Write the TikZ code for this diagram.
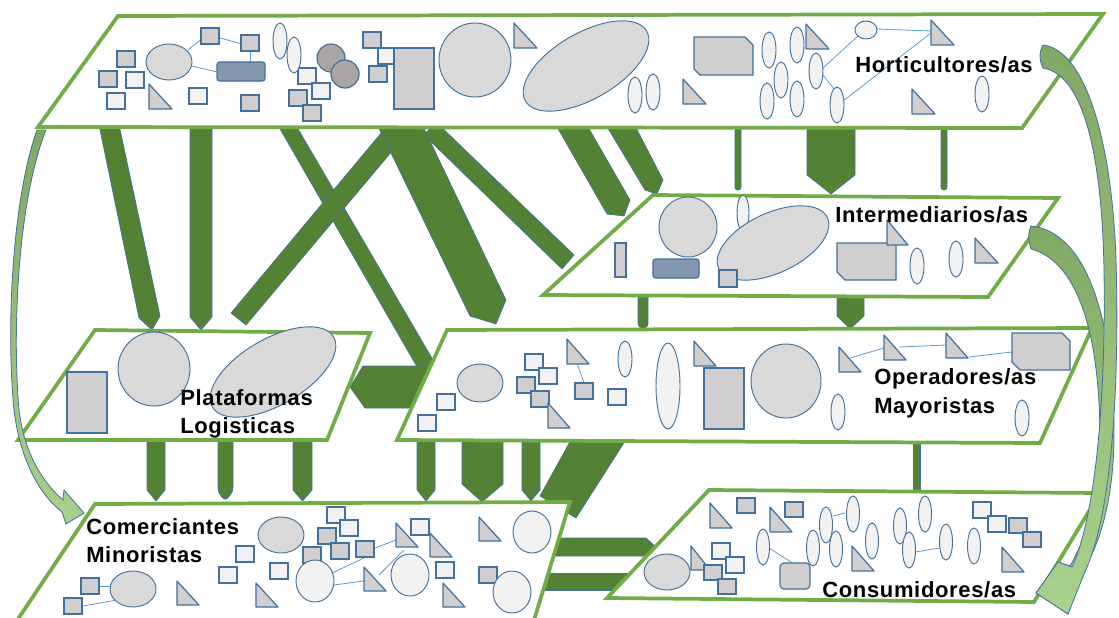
\documentclass[tikz,border=0pt]{standalone}
\usepackage{fontspec}
\usepackage{tikz}
\usetikzlibrary{calc}

\newfontfamily\lblfont[LetterSpace=3]{Liberation Sans}

\definecolor{planegreen}{RGB}{112,173,71}
\definecolor{bandgreen}{RGB}{84,130,53}
\definecolor{edgeblue}{RGB}{65,113,156}
\definecolor{linkblue}{RGB}{91,155,213}
\definecolor{fillgray}{RGB}{208,206,206}
\definecolor{filllight}{RGB}{242,242,242}
\definecolor{fillell}{RGB}{217,217,217}
\definecolor{circgray}{RGB}{170,166,166}
\definecolor{rectblue}{RGB}{132,151,176}
\definecolor{curvetop}{RGB}{129,168,100}
\definecolor{curvebot}{RGB}{169,209,142}

\begin{document}
\begin{tikzpicture}[
    x=0.75pt, y=-0.75pt,
    plane/.style={draw=planegreen, line width=2.8pt, fill=white, line join=miter},
    band/.style={fill=bandgreen, draw=edgeblue, line width=0.5pt, line join=round},
    sqg/.style={draw=edgeblue, fill=fillgray, line width=0.9pt},
    sql/.style={draw=edgeblue, fill=filllight, line width=0.9pt},
    ell/.style={draw=edgeblue, fill=fillell, line width=0.7pt},
    ellw/.style={draw=edgeblue, fill=filllight, line width=0.7pt},
    tri/.style={draw=edgeblue, fill=fillgray, line width=0.9pt, line join=round},
    lnk/.style={draw=linkblue, line width=0.6pt},
    lbl/.style={font={\lblfont\bfseries\fontsize{16.5}{20}\selectfont}, anchor=base west, inner sep=0pt},
    crv/.style={draw=edgeblue, line width=0.6pt, top color=curvetop, bottom color=curvebot},
]
\useasboundingbox (0,0) rectangle (1119,617);

% flows between the levels
\draw[band] (98,120) -- (118,120) -- (160,316) -- (152,330) -- (139,318) -- cycle;
\draw[band] (190,120) -- (212,120) -- (212,317) -- (201,330) -- (190,317) -- cycle;
\draw[band] (276,122) -- (294,122) -- (440,372) -- (420,372) -- cycle;
\draw[band] (350,387) -- (363,366) -- (450,366) -- (450,408) -- (365,408) -- cycle;
\draw[band] (382,132) -- (398,144) -- (246,325) -- (231,313) -- cycle;
\draw[band] (424,135) -- (436,122) -- (574,255) -- (562,269) -- cycle;
\draw[band] (375,120) -- (420,120) -- (506,300) -- (496,324) -- (470,316) -- cycle;
\draw[band] (553,120) -- (584,120) -- (630,200) -- (624,216) -- (607,214) -- cycle;
\draw[band] (603,120) -- (632,120) -- (663,180) -- (657,194) -- (645,190) -- cycle;
\draw[band, rounded corners=2] (735,120) -- (741,120) -- (741,190) -- (735,190) -- cycle;
\draw[band, rounded corners=2] (941,120) -- (947,120) -- (947,190) -- (941,190) -- cycle;
\draw[band] (807,120) -- (855,120) -- (855,175) -- (831,194) -- (807,175) -- cycle;
\draw[band, rounded corners=3] (638,290) -- (648,290) -- (648,328) -- (638,328) -- cycle;
\draw[band] (837,290) -- (864,290) -- (864,316) -- (850,329) -- (837,316) -- cycle;
\foreach \a/\b in {147/165, 293/312, 417/435, 522/540}
    \draw[band] (\a,435) -- (\b,435) -- (\b,490) -- ({(\a+\b)/2},501) -- (\a,490) -- cycle;
\draw[band, rounded corners=3] (218,435) -- (233,435) -- (233,492) -- (225,501) -- (218,492) -- cycle;
\draw[band] (462,435) -- (503,435) -- (503,484) -- (482,502) -- (462,484) -- cycle;
\draw[band] (572,438) -- (627,438) -- (576,518) -- (540,496) -- cycle;
\draw[band] (545,538) -- (646,538) -- (656,547) -- (646,556) -- (545,556) -- cycle;
\draw[band] (545,573) -- (665,573) -- (665,590) -- (545,590) -- cycle;
\draw[band] (913,437) -- (920,437) -- (920,496) -- (913,496) -- cycle;

% levels
\draw[plane] (95,504) -- (570,502) -- (528,640) -- (4,640) -- cycle;
\draw[plane] (709,490) -- (1100,493) -- (1034,602) -- (607,598) -- cycle;
\draw[plane] (95,330) -- (370,333) -- (327,440) -- (18,440) -- cycle;
\draw[plane] (447,330) -- (1092,328) -- (1040,443) -- (397,440) -- cycle;
\draw[plane] (653,195) -- (1058,198) -- (988,297) -- (543,295) -- cycle;
\draw[plane] (118,16) -- (1103,14) -- (1022,128) -- (38,127) -- cycle;

% Horticultores
\draw[lnk] (188,50) -- (203,38);
\draw[lnk] (220,38) -- (242,44);
\draw[lnk] (192,66) -- (217,72);
\draw[lnk] (250,51) -- (250,62);
\draw[lnk] (877,29) -- (931,31);
\draw[lnk] (823,68) -- (858,36);
\draw[lnk] (843,101) -- (931,33);
\draw[lnk] (823,75) -- (834,89);
\draw[ell] (169,62) ellipse [x radius=23, y radius=18];
\foreach \x/\y in {117/51, 99/71, 201/28, 241/35, 241/95, 363/32, 369/66}
    \draw[sqg] (\x,\y) rectangle ++(18,16);
\foreach \x/\y in {126/72, 107/93, 189/88, 378/48}
    \draw[sql] (\x,\y) rectangle ++(18,16);
\draw[sql] (298,68) rectangle ++(18,16);
\draw[sql] (312,83) rectangle ++(18,16);
\draw[sqg] (289,90) rectangle ++(18,16);
\draw[sqg] (303,105) rectangle ++(18,16);
\draw[draw=edgeblue, fill=rectblue, line width=0.9pt, rounded corners=2] (217,62) rectangle (265,81);
\draw[draw=edgeblue, fill=circgray, line width=0.9pt] (331,58) circle [radius=14];
\draw[draw=edgeblue, fill=circgray, line width=0.9pt] (345,74) circle [radius=14];
\draw[sqg] (394,48) rectangle (434,109);
\draw[ell] (475,60) ellipse [x radius=36, y radius=37];
\draw[ell, rotate around={30:(586,66)}] (586,66) ellipse [x radius=70, y radius=33];
\draw[sqg] (694,37) -- (745,37) -- (753,45) -- (753,75) -- (700,75) -- (694,69) -- cycle;
\draw[ellw] (866,30) ellipse [x radius=11, y radius=9];
\foreach \x/\y in {280/41, 294/55, 635/95, 653/92, 769/50, 797/45, 781/80, 816/71, 767/101, 797/99, 837/105, 982/94}
    \draw[ellw] (\x,\y) ellipse [x radius=7, y radius=18];
\foreach \x/\y in {149/84, 514/23, 683/79, 806/24, 931/20, 912/89}
    \draw[tri] (\x,\y) -- ++(0,25) -- ++(23,0) -- cycle;

% Intermediarios
\draw[sqg] (615,243) rectangle (626,277);
\draw[ell] (688,227) ellipse [x radius=29, y radius=30];
\draw[draw=edgeblue, fill=rectblue, line width=0.9pt, rounded corners=2] (653,259) rectangle (699,278);
\draw[ellw] (743,213) ellipse [x radius=6, y radius=18];
\draw[ell, rotate around={25:(773,243)}] (773,243) ellipse [x radius=60, y radius=30];
\draw[sqg] (719,270) rectangle ++(18,17);
\draw[sqg] (837,243) -- (896,243) -- (896,280) -- (845,280) -- (837,272) -- cycle;
\draw[tri] (887,220) -- ++(0,25) -- ++(21,0) -- cycle;
\draw[tri] (975,238) -- ++(0,25) -- ++(23,0) -- cycle;
\foreach \x/\y in {917/266, 956/259}
    \draw[ellw] (\x,\y) ellipse [x radius=7, y radius=18];

% Plataformas Logisticas
\draw[sqg] (67,372) rectangle (107,433);
\draw[ell] (154,369) ellipse [x radius=36, y radius=37];
\draw[ell, rotate around={30:(273,372)}] (273,372) ellipse [x radius=70, y radius=33];

% Operadores Mayoristas
\draw[lnk] (577,363) -- (584,383);
\draw[lnk] (850,358) -- (884,348);
\draw[lnk] (899,347) -- (946,345);
\draw[lnk] (969,357) -- (1012,352);
\draw[ell] (480,383) ellipse [x radius=23, y radius=19];
\foreach \x/\y in {437/394, 418/415, 525/354, 539/368}
    \draw[sql] (\x,\y) rectangle ++(18,16);
\foreach \x/\y in {517/377, 531/391, 575/383}
    \draw[sqg] (\x,\y) rectangle ++(18,16);
\draw[sql] (608,389) rectangle ++(18,16);
\foreach \x/\y in {548/403, 567/339, 694/341, 839/347, 884/335, 946/333}
    \draw[tri] (\x,\y) -- ++(0,25) -- ++(22,0) -- cycle;
\foreach \x/\y in {625/359, 838/412, 1022/418}
    \draw[ellw] (\x,\y) ellipse [x radius=7, y radius=18];
\draw[ellw] (668,386) ellipse [x radius=12, y radius=43];
\draw[sqg] (704,368) rectangle (744,429);
\draw[ell] (786,381) ellipse [x radius=35, y radius=37];
\draw[sqg] (1012,333) -- (1062,333) -- (1070,341) -- (1070,370) -- (1020,370) -- (1012,362) -- cycle;

% Comerciantes Minoristas
\draw[lnk] (100,586) -- (112,586);
\draw[lnk] (83,606) -- (117,600);
\draw[lnk] (375,548) -- (396,540);
\draw[lnk] (330,574) -- (366,557);
\draw[lnk] (334,585) -- (364,581);
\draw[lnk] (379,575) -- (404,550);
\draw[ell] (133,589) ellipse [x radius=23, y radius=18];
\draw[ell] (281,535) ellipse [x radius=23, y radius=18];
\foreach \x/\y in {236/546, 219/567, 270/563, 327/507, 340/520, 411/519, 436/562}
    \draw[sql] (\x,\y) rectangle ++(18,16);
\foreach \x/\y in {81/578, 64/598, 318/528, 303/547, 331/543, 356/541, 479/567}
    \draw[sqg] (\x,\y) rectangle ++(18,16);
\foreach \x/\y in {177/581, 256/583, 396/523, 430/533, 364/567, 443/583, 479/517}
    \draw[tri] (\x,\y) -- ++(0,24) -- ++(22,0) -- cycle;
\foreach \x/\y in {315/581, 410/575, 532/532, 512/592}
    \draw[ellw] (\x,\y) ellipse [x radius=19, y radius=21];

% Consumidores
\draw[lnk] (769,548) -- (794,564);
\draw[lnk] (833,516) -- (845,513);
\draw[lnk] (915,552) -- (940,548);
\draw[ell] (667,572) ellipse [x radius=23, y radius=18];
\draw[tri] (691,546) -- ++(0,24) -- ++(19,0) -- cycle;
\foreach \x/\y in {712/543, 726/557, 973/502, 988/516}
    \draw[sql] (\x,\y) rectangle ++(18,16);
\foreach \x/\y in {704/565, 718/579, 737/498, 785/502, 1009/518, 1023/532}
    \draw[sqg] (\x,\y) rectangle ++(18,15);
\foreach \x/\y in {710/503, 770/507, 852/546, 1002/547}
    \draw[tri] (\x,\y) -- ++(0,25) -- ++(22,0) -- cycle;
\foreach \x/\y in {763/547, 813/548, 826/525, 836/549, 853/514, 872/541, 900/526, 925/514, 909/550, 946/542, 974/546}
    \draw[ellw] (\x,\y) ellipse [x radius=6.5, y radius=18];
\draw[sqg, rounded corners=3] (780,563) rectangle (810,589);

% labels
\node[lbl] (hort) at (855,73) {Horticultores/as};
\node[lbl] (inter) at (835,222) {Intermediarios/as};
\node[lbl] (plat) at (180,405) {Plataformas};
\node[lbl] (logi) at (180,433) {Logisticas};
\node[lbl] (oper) at (874,384) {Operadores/as};
\node[lbl] (mayo) at (874,413) {Mayoristas};
\node[lbl] (come) at (86,534) {Comerciantes};
\node[lbl] (mino) at (86,562) {Minoristas};
\node[lbl] (cons) at (822,597) {Consumidores/as};

% curved arrows
\draw[crv] (37,130) .. controls (12,200) and (6,330) .. (14,410)
    .. controls (20,460) and (40,495) .. (62,512) -- (66,524) -- (84,513) -- (64,490) -- (63,500)
    .. controls (40,480) and (24,450) .. (19,410) .. controls (12,330) and (18,200) .. (46,130) -- cycle;
\draw[crv] (1031,226) .. controls (1090,232) and (1115,330) .. (1114,440)
    .. controls (1113,500) and (1100,545) .. (1082,572) -- (1068,614) -- (1036,593) -- (1058,562) -- (1070,566)
    .. controls (1088,535) and (1100,490) .. (1100,440) .. controls (1100,340) and (1080,262) .. (1031,249)
    .. controls (1028,240) and (1028,232) .. cycle;
\draw[crv] (1043,45) .. controls (1085,50) and (1112,140) .. (1116,260)
    .. controls (1120,400) and (1110,520) .. (1084,574) -- (1068,614) -- (1036,593) -- (1058,562) -- (1072,567)
    .. controls (1094,520) and (1106,410) .. (1104,270) .. controls (1102,160) and (1085,75) .. (1043,68)
    .. controls (1039,60) and (1039,52) .. cycle;
\end{tikzpicture}
\end{document}
